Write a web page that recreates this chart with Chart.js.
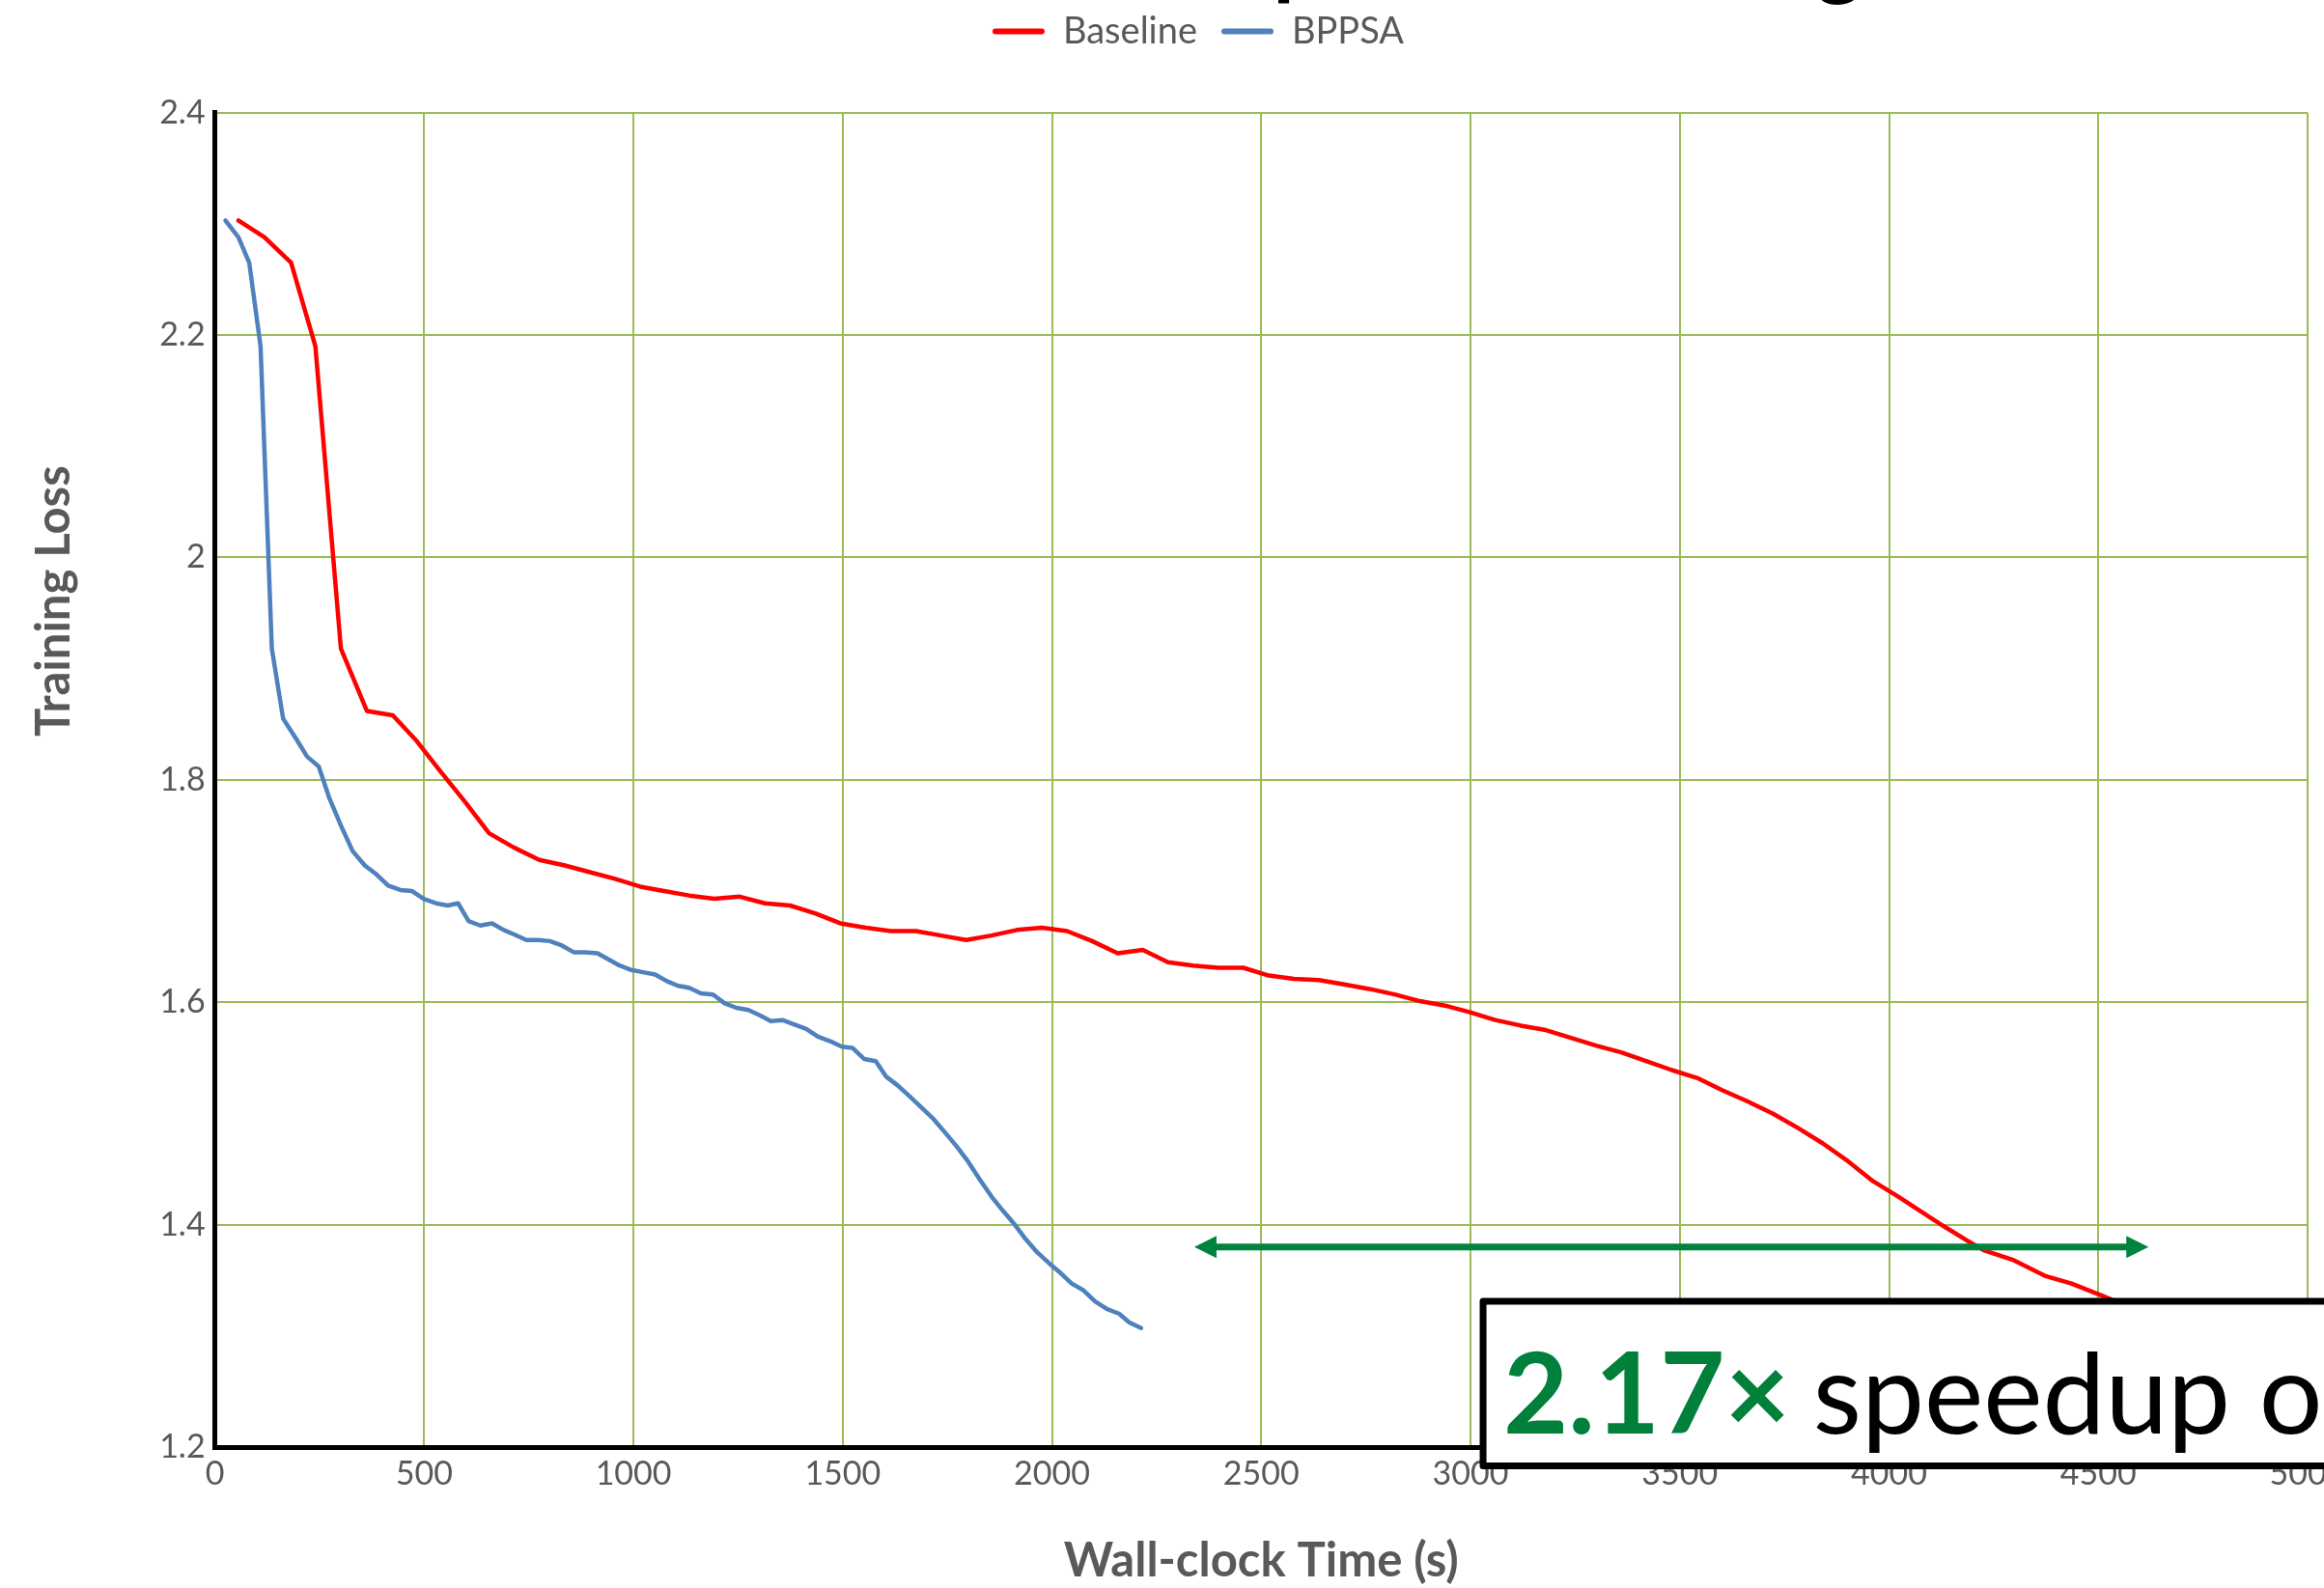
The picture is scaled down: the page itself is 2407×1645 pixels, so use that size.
<!DOCTYPE html>
<html>
<head>
<meta charset="utf-8">
<script src="https://cdn.jsdelivr.net/npm/chart.js@4.4.1/dist/chart.umd.min.js"></script>
<style>
  html, body { margin: 0; padding: 0; background: #ffffff; overflow: hidden; width: 2407px; height: 1645px; }
  #wrap { position: absolute; left: 0; top: -71px; width: 2468px; height: 1716px; }
</style>
</head>
<body>
<div id="wrap"><canvas id="lossChart"></canvas></div>
<script>
// Training loss over wall-clock time (seconds)
const baselineTime = [56, 118, 182, 240, 301, 363, 425, 482, 538, 598, 655, 715, 775, 836, 896, 956, 1016, 1073, 1133, 1193,
  1254, 1314, 1374, 1434, 1494, 1555, 1615, 1675, 1735, 1795, 1855, 1916, 1976, 2036, 2096, 2157, 2217, 2277, 2337, 2397,
  2457, 2518, 2578, 2638, 2698, 2758, 2819, 2879, 2939, 2999, 3059, 3120, 3180, 3240, 3300, 3360, 3421, 3481, 3541, 3601,
  3661, 3722, 3782, 3842, 3902, 3962, 4023, 4129, 4194, 4226, 4298, 4372, 4436, 4510, 4580];
const baselineLoss = [2.303, 2.288, 2.265, 2.190, 1.918, 1.862, 1.858, 1.835, 1.808, 1.780, 1.752, 1.739, 1.728, 1.723, 1.717, 1.711, 1.704, 1.700, 1.696, 1.693,
  1.695, 1.689, 1.687, 1.680, 1.671, 1.667, 1.664, 1.664, 1.660, 1.656, 1.660, 1.665, 1.667, 1.664, 1.655, 1.644, 1.647, 1.636, 1.633, 1.631,
  1.631, 1.624, 1.621, 1.620, 1.616, 1.612, 1.607, 1.601, 1.597, 1.591, 1.584, 1.579, 1.575, 1.568, 1.561, 1.555, 1.547, 1.539, 1.532, 1.521,
  1.511, 1.500, 1.487, 1.473, 1.457, 1.439, 1.425, 1.399, 1.384, 1.377, 1.368, 1.354, 1.347, 1.336, 1.325];

const bppsaTime = [25, 56, 82, 109, 136, 163, 194, 220, 248, 273, 301, 329, 358, 386, 414, 443, 471, 499, 528, 556,
  581, 606, 634, 662, 690, 715, 744, 772, 800, 829, 857, 885, 914, 938, 967, 995, 1023, 1052, 1080, 1105,
  1133, 1161, 1190, 1218, 1246, 1275, 1303, 1328, 1356, 1385, 1413, 1441, 1470, 1498, 1523, 1551, 1579, 1604, 1632, 1661,
  1689, 1717, 1742, 1771, 1799, 1827, 1856, 1884, 1909, 1937, 1965, 1994, 2022, 2047, 2075, 2103, 2132, 2160, 2185, 2213];
const bppsaLoss = [2.303, 2.288, 2.265, 2.190, 1.918, 1.855, 1.837, 1.821, 1.812, 1.784, 1.759, 1.736, 1.723, 1.715, 1.705, 1.701, 1.700, 1.693, 1.689, 1.687,
  1.689, 1.673, 1.669, 1.671, 1.665, 1.661, 1.656, 1.656, 1.655, 1.651, 1.645, 1.645, 1.644, 1.639, 1.633, 1.629, 1.627, 1.625, 1.619, 1.615,
  1.613, 1.608, 1.607, 1.599, 1.595, 1.593, 1.588, 1.583, 1.584, 1.580, 1.576, 1.569, 1.565, 1.560, 1.559, 1.549, 1.547, 1.533, 1.525, 1.515,
  1.505, 1.495, 1.484, 1.471, 1.457, 1.441, 1.425, 1.412, 1.401, 1.387, 1.375, 1.365, 1.356, 1.347, 1.341, 1.331, 1.324, 1.320, 1.312, 1.307];

const xTickValues = [0, 500, 1000, 1500, 2000, 2500, 3000, 3500, 4000, 4500, 5000];
const yTickValues = [1.2, 1.4, 1.6, 1.8, 2.0, 2.2, 2.4];

// Double arrow marking the time gap, and the callout box
const speedupSpan = [2340, 4620];
const speedupLevel = 1.38;
const noteBox = { left: 3030, top: 1.331, bottom: 1.183 };
const noteFactor = '2.17\u00d7';
const noteText = 'speedup on training';

const GRID_GREEN = '#9BBB59';
const TEXT_GREY = '#595959';
const NOTE_GREEN = '#00843D';

const toPoints = (xs, ys) => xs.map((t, i) => ({ x: t, y: ys[i] }));

// Vertical axis title, drawn rotated beside the tick labels
const yTitlePlugin = {
  id: 'yAxisTitle',
  afterDraw(chart) {
    const { ctx, chartArea } = chart;
    const cy = chartArea.top + chartArea.height * 0.366;
    ctx.save();
    ctx.translate(72, cy);
    ctx.rotate(-Math.PI / 2);
    ctx.font = 'bold 49px Lato';
    ctx.fillStyle = TEXT_GREY;
    ctx.textAlign = 'center';
    ctx.textBaseline = 'alphabetic';
    ctx.fillText('Training Loss', 0, 0);
    ctx.restore();
  }
};

// Green double arrow plus the boxed speedup label
const speedupPlugin = {
  id: 'speedupNote',
  afterDraw(chart) {
    const { ctx, scales: { x, y } } = chart;
    const x0 = x.getPixelForValue(speedupSpan[0]);
    const x1 = x.getPixelForValue(speedupSpan[1]);
    const ya = y.getPixelForValue(speedupLevel);
    const head = 23, half = 11.5;
    ctx.save();
    ctx.strokeStyle = NOTE_GREEN;
    ctx.fillStyle = NOTE_GREEN;
    ctx.lineWidth = 7;
    ctx.beginPath();
    ctx.moveTo(x0 + head - 2, ya);
    ctx.lineTo(x1 - head + 2, ya);
    ctx.stroke();
    ctx.beginPath();
    ctx.moveTo(x0, ya); ctx.lineTo(x0 + head, ya - half); ctx.lineTo(x0 + head, ya + half); ctx.closePath();
    ctx.fill();
    ctx.beginPath();
    ctx.moveTo(x1, ya); ctx.lineTo(x1 - head, ya - half); ctx.lineTo(x1 - head, ya + half); ctx.closePath();
    ctx.fill();

    const bx = x.getPixelForValue(noteBox.left);
    const by = y.getPixelForValue(noteBox.top);
    const bb = y.getPixelForValue(noteBox.bottom);
    const bw = chart.width - bx + 40;
    ctx.fillStyle = '#ffffff';
    ctx.fillRect(bx, by, bw, bb - by);
    ctx.lineWidth = 7;
    ctx.lineJoin = 'round';
    ctx.strokeStyle = '#000000';
    ctx.strokeRect(bx, by, bw, bb - by);

    const base = bb - 34;
    ctx.textBaseline = 'alphabetic';
    ctx.textAlign = 'left';
    ctx.font = 'bold 116px Lato';
    ctx.fillStyle = '#00803A';
    ctx.fillText(noteFactor, bx + 21, base);
    const w = ctx.measureText(noteFactor).width;
    ctx.font = '116px Lato';
    ctx.fillStyle = '#000000';
    ctx.fillText(noteText, bx + 21 + w + 24, base);
    ctx.restore();
  }
};

function build() {
  new Chart(document.getElementById('lossChart'), {
    type: 'line',
    data: {
      datasets: [
        {
          label: 'Baseline',
          data: toPoints(baselineTime, baselineLoss),
          borderColor: '#FF0000',
          backgroundColor: '#FF0000',
          borderWidth: 4.5,
          pointRadius: 0,
          tension: 0,
          fill: false,
          borderCapStyle: 'round',
          borderJoinStyle: 'round'
        },
        {
          label: 'BPPSA',
          data: toPoints(bppsaTime, bppsaLoss),
          borderColor: '#4F81BD',
          backgroundColor: '#4F81BD',
          borderWidth: 4.5,
          pointRadius: 0,
          tension: 0,
          fill: false,
          borderCapStyle: 'round',
          borderJoinStyle: 'round'
        }
      ]
    },
    options: {
      responsive: true,
      maintainAspectRatio: false,
      animation: false,
      devicePixelRatio: 1,
      layout: { padding: { left: 92, right: 78, top: 0, bottom: 0 } },
      plugins: {
        title: {
          display: true,
          text: 'Loss Curves of Deep RNN Training',
          color: '#000000',
          font: { family: 'Lato', size: 90, weight: 'bold', lineHeight: 0.66 },
          padding: 0
        },
        legend: {
          display: true,
          position: 'top',
          labels: {
            font: { family: 'Lato', size: 38 },
            color: TEXT_GREY,
            boxWidth: 54,
            boxHeight: 6,
            padding: 25,
            useBorderRadius: true,
            borderRadius: 3,
            generateLabels: (chart) => chart.data.datasets.map((ds, i) => ({
              text: ds.label,
              fillStyle: ds.borderColor,
              strokeStyle: ds.borderColor,
              lineWidth: 0,
              hidden: false,
              datasetIndex: i,
              fontColor: TEXT_GREY,
              borderRadius: 3
            }))
          }
        },
        tooltip: { enabled: false }
      },
      scales: {
        x: {
          type: 'linear',
          min: 0,
          max: 5000,
          afterBuildTicks: (s) => { s.ticks = xTickValues.map(v => ({ value: v })); },
          afterFit: (s) => { s.height = 146; },
          ticks: {
            font: { family: 'Lato', size: 34 },
            color: TEXT_GREY,
            padding: 8,
            maxRotation: 0,
            autoSkip: false,
            callback: (v) => String(v)
          },
          grid: { color: GRID_GREEN, lineWidth: 2, drawTicks: false },
          border: { color: '#000000', width: 5 },
          title: {
            display: true,
            text: 'Wall-clock Time (s)',
            color: TEXT_GREY,
            font: { family: 'Lato', size: 49, weight: 'bold', lineHeight: 1 },
            padding: { top: 0, bottom: 3 }
          }
        },
        // empty band between the legend and the plot
        topGap: {
          type: 'linear',
          axis: 'x',
          position: 'top',
          display: true,
          ticks: { display: false },
          grid: { display: false, drawTicks: false },
          border: { display: false },
          afterFit: (s) => { s.height = 55.3; }
        },
        y: {
          type: 'linear',
          min: 1.2,
          max: 2.4,
          afterBuildTicks: (s) => { s.ticks = yTickValues.map(v => ({ value: v })); },
          afterFit: (s) => { s.width = 130.6; },
          ticks: {
            font: { family: 'Lato', size: 34 },
            color: TEXT_GREY,
            padding: 10,
            callback: (v) => String(Math.round(v * 10) / 10)
          },
          grid: { color: GRID_GREEN, lineWidth: 2, drawTicks: false },
          border: { color: '#000000', width: 5 }
        }
      }
    },
    plugins: [yTitlePlugin, speedupPlugin]
  });
}

Promise.all([
  document.fonts.load('34px Lato'),
  document.fonts.load('bold 49px Lato')
]).then(build, build);
</script>
</body>
</html>
